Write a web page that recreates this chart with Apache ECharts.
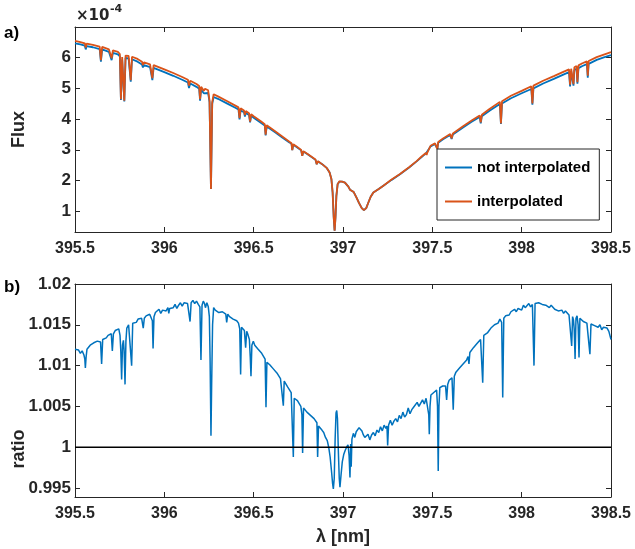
<!DOCTYPE html>
<html>
<head>
<meta charset="utf-8">
<script src="https://cdn.jsdelivr.net/npm/echarts@6/dist/echarts.min.js"></script>
<style>html,body{margin:0;padding:0;background:#fff}#c{width:635px;height:549px}</style>
</head>
<body>
<div id="c"></div>
<script>
// ---- data ----
var xTicks = [395.5, 396, 396.5, 397, 397.5, 398, 398.5];
var fluxTicks = [1, 2, 3, 4, 5, 6];
var ratioTicks = [0.995, 1, 1.005, 1.01, 1.015, 1.02];

var fluxLambda = [395.500,395.530,395.555,395.560,395.565,395.600,395.638,395.645,395.652,395.690,395.705,395.712,395.740,395.751,395.757,395.764,395.770,395.776,395.783,395.800,395.812,395.819,395.850,395.875,395.880,395.886,395.920,395.933,395.940,396.000,396.050,396.100,396.132,396.138,396.145,396.180,396.195,396.200,396.206,396.216,396.221,396.228,396.245,396.253,396.261,396.268,396.276,396.300,396.350,396.400,396.415,396.421,396.427,396.446,396.451,396.456,396.474,396.480,396.486,396.500,396.540,396.562,396.567,396.573,396.620,396.660,396.700,396.712,396.716,396.722,396.740,396.766,396.772,396.778,396.800,396.846,396.853,396.860,396.890,396.910,396.925,396.935,396.942,396.948,396.953,396.958,396.963,396.970,396.980,396.995,397.011,397.030,397.039,397.045,397.060,397.075,397.090,397.105,397.117,397.130,397.142,397.155,397.170,397.200,397.226,397.270,397.319,397.370,397.412,397.440,397.464,397.468,397.472,397.490,397.515,397.524,397.528,397.533,397.560,397.600,397.608,397.615,397.670,397.720,397.765,397.771,397.777,397.820,397.878,397.884,397.890,397.940,398.000,398.054,398.060,398.066,398.120,398.180,398.230,398.265,398.271,398.277,398.286,398.290,398.295,398.307,398.312,398.318,398.340,398.365,398.370,398.375,398.420,398.460,398.500];

var fluxInterpolated = [6.55,6.51,6.47,6.33,6.46,6.42,6.36,5.92,6.35,6.27,5.98,6.24,6.19,6.12,4.65,6.02,6.04,4.60,6.07,6.06,5.27,6.03,5.96,5.87,5.76,5.85,5.78,5.33,5.76,5.62,5.50,5.37,5.28,5.09,5.25,5.14,5.08,4.65,5.05,5.02,4.92,4.99,4.94,4.60,1.72,4.55,4.81,4.74,4.59,4.43,4.38,4.03,4.35,4.28,4.13,4.26,4.19,3.92,4.16,4.09,3.93,3.83,3.49,3.80,3.60,3.43,3.26,3.21,2.99,3.18,3.11,2.99,2.80,2.95,2.87,2.68,2.53,2.63,2.50,2.40,2.26,2.05,1.60,0.80,0.36,0.80,1.50,1.88,1.97,1.96,1.93,1.80,1.70,1.76,1.62,1.45,1.26,1.10,1.03,1.10,1.28,1.47,1.61,1.72,1.83,2.02,2.21,2.43,2.63,2.78,2.90,2.83,2.91,3.13,3.21,3.24,3.03,3.25,3.37,3.51,3.37,3.53,3.76,3.95,4.12,3.89,4.14,4.33,4.56,3.86,4.58,4.76,4.92,5.07,4.51,5.09,5.25,5.40,5.53,5.62,5.12,5.64,5.68,5.14,5.69,5.73,5.20,5.75,5.82,5.88,5.41,5.89,6.02,6.10,6.18];

var fluxNotInterpolated = [6.47,6.43,6.39,6.27,6.38,6.34,6.28,5.87,6.27,6.19,5.92,6.16,6.11,6.04,4.62,5.94,5.96,4.57,5.99,5.98,5.22,5.95,5.87,5.78,5.68,5.76,5.69,5.27,5.67,5.53,5.41,5.28,5.19,5.01,5.16,5.05,4.99,4.60,4.96,4.93,4.84,4.90,4.85,4.55,1.72,4.50,4.72,4.66,4.51,4.36,4.31,3.99,4.28,4.22,4.08,4.20,4.13,3.89,4.11,4.04,3.88,3.79,3.47,3.76,3.57,3.40,3.24,3.19,2.99,3.16,3.09,2.98,2.80,2.94,2.86,2.67,2.53,2.62,2.50,2.40,2.26,2.05,1.60,0.80,0.36,0.80,1.50,1.88,1.96,1.96,1.93,1.80,1.70,1.76,1.62,1.45,1.26,1.10,1.03,1.10,1.28,1.47,1.61,1.72,1.83,2.01,2.20,2.42,2.62,2.76,2.88,2.82,2.89,3.11,3.19,3.22,3.03,3.23,3.34,3.48,3.35,3.50,3.72,3.91,4.07,3.86,4.09,4.27,4.49,3.84,4.51,4.68,4.84,4.98,4.47,5.00,5.16,5.31,5.44,5.53,5.06,5.55,5.59,5.09,5.60,5.64,5.15,5.66,5.73,5.79,5.35,5.80,5.93,6.01,6.08];

var ratioLambda = [
395.500,395.510,395.520,395.530,395.540,395.550,395.555,395.558,395.562,395.567,
395.575,395.585,395.595,395.605,395.615,395.625,395.635,395.643,395.649,395.655,
395.665,395.675,395.685,395.695,395.703,395.709,395.715,395.725,395.735,395.745,
395.752,395.756,395.761,395.766,395.771,395.775,395.780,395.785,395.790,395.800,
395.810,395.817,395.823,395.833,395.843,395.853,395.863,395.873,395.882,395.888,
395.898,395.908,395.918,395.928,395.933,395.937,395.942,395.950,395.960,395.970,
395.980,395.990,396.000,396.010,396.020,396.025,396.030,396.040,396.050,396.060,
396.070,396.080,396.090,396.100,396.110,396.120,396.130,396.138,396.144,396.150,
396.160,396.170,396.180,396.190,396.199,396.205,396.211,396.218,396.225,396.230,
396.238,396.246,396.252,396.256,396.261,396.265,396.270,396.276,396.285,396.295,
396.305,396.315,396.325,396.335,396.344,396.349,396.355,396.365,396.375,396.385,
396.395,396.405,396.415,396.422,396.427,396.432,396.440,396.448,396.455,396.461,
396.468,396.476,396.481,396.485,396.490,396.498,396.506,396.515,396.525,396.535,
396.545,396.555,396.564,396.569,396.574,396.582,396.590,396.600,396.610,396.620,
396.630,396.640,396.650,396.660,396.666,396.671,396.680,396.690,396.700,396.710,
396.717,396.722,396.727,396.735,396.745,396.755,396.764,396.770,396.774,396.779,
396.788,396.798,396.808,396.818,396.828,396.838,396.848,396.854,396.858,396.863,
396.872,396.882,396.892,396.902,396.912,396.920,396.928,396.936,396.942,396.946,
396.951,396.956,396.961,396.965,396.969,396.974,396.979,396.983,396.989,396.996,
397.004,397.012,397.020,397.028,397.034,397.039,397.043,397.046,397.050,397.058,
397.066,397.074,397.082,397.090,397.098,397.106,397.114,397.122,397.130,397.140,
397.150,397.160,397.170,397.180,397.190,397.200,397.210,397.220,397.230,397.240,
397.246,397.250,397.255,397.265,397.275,397.285,397.295,397.305,397.315,397.325,
397.335,397.345,397.355,397.365,397.375,397.385,397.395,397.405,397.415,397.425,
397.435,397.445,397.455,397.465,397.474,397.480,397.483,397.487,397.492,397.500,
397.508,397.516,397.524,397.529,397.533,397.537,397.542,397.550,397.558,397.566,
397.574,397.580,397.586,397.594,397.602,397.610,397.617,397.623,397.632,397.642,
397.652,397.662,397.672,397.682,397.692,397.700,397.705,397.710,397.720,397.730,
397.740,397.750,397.760,397.770,397.777,397.782,397.788,397.798,397.808,397.818,
397.828,397.838,397.848,397.858,397.868,397.878,397.888,397.894,397.900,397.910,
397.920,397.930,397.940,397.950,397.960,397.970,397.980,397.990,398.000,398.010,
398.020,398.030,398.040,398.050,398.060,398.064,398.069,398.075,398.085,398.095,
398.105,398.115,398.125,398.135,398.145,398.155,398.165,398.175,398.185,398.195,
398.205,398.215,398.225,398.235,398.245,398.255,398.265,398.275,398.280,398.285,
398.290,398.294,398.299,398.304,398.310,398.316,398.321,398.326,398.335,398.345,
398.355,398.365,398.375,398.382,398.388,398.398,398.408,398.418,398.428,398.438,
398.448,398.458,398.468,398.478,398.488,398.496,398.500];

var ratioValues = [
1.0120,1.0118,1.0119,1.0115,1.0118,1.0113,1.0108,1.0097,1.0110,1.0120,
1.0122,1.0125,1.0126,1.0128,1.0127,1.0130,1.0131,1.0129,1.0102,1.0132,
1.0134,1.0134,1.0137,1.0136,1.0139,1.0118,1.0139,1.0143,1.0142,1.0145,
1.0137,1.0120,1.0083,1.0125,1.0131,1.0118,1.0077,1.0130,1.0146,1.0150,
1.0149,1.0100,1.0152,1.0154,1.0153,1.0157,1.0156,1.0158,1.0146,1.0158,
1.0161,1.0160,1.0163,1.0161,1.0155,1.0121,1.0160,1.0165,1.0164,1.0169,
1.0164,1.0168,1.0170,1.0167,1.0171,1.0164,1.0170,1.0172,1.0171,1.0175,
1.0170,1.0174,1.0177,1.0173,1.0177,1.0178,1.0176,1.0174,1.0154,1.0177,
1.0180,1.0176,1.0179,1.0175,1.0172,1.0107,1.0174,1.0179,1.0176,1.0171,
1.0177,1.0172,1.0160,1.0110,1.0014,1.0080,1.0150,1.0171,1.0168,1.0169,
1.0165,1.0167,1.0166,1.0164,1.0163,1.0153,1.0163,1.0160,1.0161,1.0157,
1.0158,1.0155,1.0152,1.0145,1.0089,1.0147,1.0148,1.0143,1.0122,1.0142,
1.0138,1.0132,1.0110,1.0087,1.0125,1.0130,1.0125,1.0125,1.0120,1.0120,
1.0115,1.0114,1.0108,1.0049,1.0104,1.0106,1.0101,1.0101,1.0096,1.0096,
1.0091,1.0089,1.0084,1.0083,1.0051,1.0081,1.0079,1.0074,1.0072,1.0067,
1.0066,0.9988,1.0060,1.0062,1.0057,1.0057,1.0050,1.0040,0.9993,1.0048,
1.0048,1.0043,1.0043,1.0039,1.0039,1.0035,1.0035,1.0030,0.9988,1.0026,
1.0026,1.0021,1.0018,1.0012,1.0008,1.0000,0.9988,0.9970,0.9955,0.9949,
0.9962,1.0010,1.0042,1.0045,1.0035,0.9995,0.9962,0.9951,0.9966,0.9982,
0.9991,0.9996,1.0000,1.0003,0.9990,0.9963,1.0004,0.9976,1.0010,1.0017,
1.0012,1.0019,1.0021,1.0024,1.0026,1.0020,1.0015,1.0012,1.0011,1.0016,
1.0009,1.0015,1.0018,1.0014,1.0021,1.0018,1.0025,1.0020,1.0027,1.0023,
1.0026,1.0002,1.0027,1.0033,1.0027,1.0032,1.0035,1.0031,1.0039,1.0035,
1.0043,1.0037,1.0040,1.0048,1.0041,1.0046,1.0049,1.0047,1.0055,1.0050,
1.0054,1.0058,1.0053,1.0060,1.0058,1.0040,1.0016,1.0050,1.0064,1.0062,
1.0067,1.0065,1.0070,1.0050,0.9971,1.0050,1.0073,1.0071,1.0075,1.0073,
1.0075,1.0058,1.0077,1.0082,1.0080,1.0085,1.0046,1.0087,1.0092,1.0091,
1.0097,1.0096,1.0102,1.0101,1.0107,1.0111,1.0102,1.0116,1.0118,1.0122,
1.0122,1.0127,1.0127,1.0132,1.0131,1.0079,1.0137,1.0139,1.0140,1.0143,
1.0146,1.0145,1.0150,1.0149,1.0152,1.0157,1.0153,1.0061,1.0158,1.0161,
1.0163,1.0162,1.0166,1.0165,1.0169,1.0166,1.0170,1.0171,1.0168,1.0174,
1.0171,1.0173,1.0176,1.0172,1.0175,1.0175,1.0100,1.0176,1.0178,1.0177,
1.0179,1.0175,1.0176,1.0174,1.0176,1.0171,1.0174,1.0172,1.0169,1.0171,
1.0167,1.0169,1.0168,1.0164,1.0167,1.0165,1.0162,1.0163,1.0124,1.0160,
1.0156,1.0145,1.0108,1.0158,1.0161,1.0150,1.0110,1.0158,1.0158,1.0154,
1.0155,1.0152,1.0154,1.0114,1.0151,1.0152,1.0149,1.0150,1.0147,1.0150,
1.0144,1.0147,1.0145,1.0146,1.0142,1.0143,1.0132];

var refLineLambda = [395.5, 398.5];
var refLineValues = [1, 1];

// ---- chart ----
function zip(a, b) { var o = []; for (var i = 0; i < a.length; i++) o.push([a[i], b[i]]); return o; }
var FONT = 'Liberation Sans, Arial, Helvetica, sans-serif';
var AX = '#262626';
var BLUE = '#0072BD', ORANGE = '#D95319';

function xAx(grid, pos, labels) {
  return {
    type: 'value', gridIndex: grid, position: pos, min: 395.5, max: 398.5, interval: 0.5,
    axisLine: { show: true, onZero: false, lineStyle: { color: AX, width: 1 } },
    axisTick: { show: true, inside: true, length: 5, lineStyle: { color: AX, width: 1 } },
    axisLabel: { show: labels, color: AX, fontFamily: FONT, fontWeight: 'bold', fontSize: 16, margin: 9,
      formatter: function (v) { return String(+v.toFixed(1)); } },
    splitLine: { show: false }
  };
}
function yAx(grid, pos, min, max, ticks, labels, dec) {
  return {
    type: 'value', gridIndex: grid, position: pos, min: min, max: max,
    axisLine: { show: true, onZero: false, lineStyle: { color: AX, width: 1 } },
    axisTick: { show: true, inside: true, length: 5, customValues: ticks, lineStyle: { color: AX, width: 1 } },
    axisLabel: { show: labels, customValues: ticks, color: AX, fontFamily: FONT, fontWeight: 'bold', fontSize: 17, margin: 4,
      formatter: function (v) { return String(+v.toFixed(dec)); } },
    splitLine: { show: false }
  };
}

var chart = echarts.init(document.getElementById('c'), null, { renderer: 'canvas' });
chart.setOption({
  animation: false,
  backgroundColor: '#ffffff',
  grid: [
    { left: 75, top: 27, width: 536, height: 205, containLabel: false },
    { left: 75, top: 284, width: 536, height: 213, containLabel: false }
  ],
  xAxis: [ xAx(0, 'bottom', true), xAx(0, 'top', false), xAx(1, 'bottom', true), xAx(1, 'top', false) ],
  yAxis: [
    yAx(0, 'left', 0.32, 7, fluxTicks, true, 0), yAx(0, 'right', 0.32, 7, fluxTicks, false, 0),
    yAx(1, 'left', 0.9939, 1.02, ratioTicks, true, 3), yAx(1, 'right', 0.9939, 1.02, ratioTicks, false, 3)
  ],
  legend: {
    left: 437, top: 149, orient: 'vertical',
    padding: [11, 9, 11, 8], itemGap: 19, itemWidth: 27, itemHeight: 2,
    borderColor: AX, borderWidth: 1, backgroundColor: '#ffffff',
    icon: 'rect',
    textStyle: { fontFamily: FONT, fontWeight: 'bold', fontSize: 15, color: '#000' },
    data: ['not interpolated', 'interpolated']
  },
  series: [
    { name: 'not interpolated', type: 'line', xAxisIndex: 0, yAxisIndex: 0, data: zip(fluxLambda, fluxNotInterpolated),
      showSymbol: false, symbol: 'none', color: BLUE, lineStyle: { color: BLUE, width: 1.8 }, z: 2 },
    { name: 'interpolated', type: 'line', xAxisIndex: 0, yAxisIndex: 0, data: zip(fluxLambda, fluxInterpolated),
      showSymbol: false, symbol: 'none', color: ORANGE, lineStyle: { color: ORANGE, width: 1.8 }, z: 3 },
    { name: 'ratio', type: 'line', xAxisIndex: 2, yAxisIndex: 2, data: zip(ratioLambda, ratioValues),
      showSymbol: false, symbol: 'none', color: BLUE, lineStyle: { color: BLUE, width: 1.5 }, z: 2 },
    { name: 'one', type: 'line', xAxisIndex: 2, yAxisIndex: 2, data: zip(refLineLambda, refLineValues),
      showSymbol: false, symbol: 'none', color: '#000', lineStyle: { color: '#000', width: 1.5 }, z: 3 }
  ],
  graphic: [
    { type: 'text', left: 4, top: 25, style: { text: 'a)', fontSize: 17, fontWeight: 'bold', fontFamily: FONT, fill: '#000' } },
    { type: 'text', left: 4, top: 279, style: { text: 'b)', fontSize: 17, fontWeight: 'bold', fontFamily: FONT, fill: '#000' } },
    { type: 'text', left: 76, top: 9, style: { text: '×10', fontSize: 15, fontWeight: 'bold', fontFamily: 'DejaVu Sans, sans-serif', fill: AX } },
    { type: 'text', left: 110, top: 4, style: { text: '-4', fontSize: 11, fontWeight: 'bold', fontFamily: 'DejaVu Sans, sans-serif', fill: AX } },
    { type: 'text', x: 19, y: 129.5, rotation: Math.PI / 2, style: { text: 'Flux', fontSize: 18, fontWeight: 'bold', fontFamily: FONT, fill: AX, align: 'center', verticalAlign: 'middle' } },
    { type: 'text', x: 19, y: 449, rotation: Math.PI / 2, style: { text: 'ratio', fontSize: 18, fontWeight: 'bold', fontFamily: FONT, fill: AX, align: 'center', verticalAlign: 'middle' } },
    { type: 'text', x: 343, y: 537, style: { text: 'λ [nm]', fontSize: 18, fontWeight: 'bold', fontFamily: FONT, fill: AX, align: 'center', verticalAlign: 'middle' } }
  ]
});
</script>
</body>
</html>
